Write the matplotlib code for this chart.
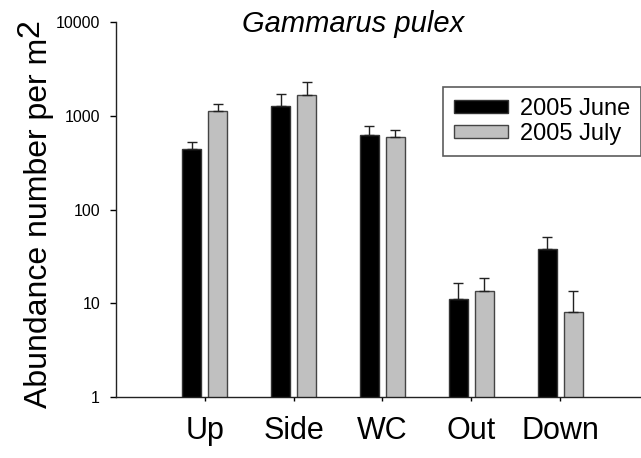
import numpy as np
import matplotlib
matplotlib.use('Agg')
import matplotlib.pyplot as plt

plt.rcParams['font.family'] = ['Liberation Sans', 'DejaVu Sans']

sites = ['Up', 'Side', 'WC', 'Out', 'Down']
june = [439, 1262, 623, 11.0, 37.9]
july = [1132, 1652, 589, 13.6, 8.1]
june_err = [82, 444, 160, 5.3, 13.4]
july_err = [193, 622, 121, 4.9, 5.5]
series_names = ['2005 June', '2005 July']
yticks = [1, 10, 100, 1000, 10000]

fig = plt.figure(figsize=(6.41, 4.58), dpi=100)
ax = fig.add_axes([116/641, 61/458, 524/641, 375/458])

x = np.arange(len(sites))
w = 0.214
off = 0.147
err_kw = dict(ecolor='#222222', elinewidth=1.0, capsize=3.6, capthick=1.0)
ax.bar(x - off, june, w, color='black', edgecolor='#333333', linewidth=1,
       yerr=[np.zeros(len(june)), june_err], error_kw=err_kw, label=series_names[0])
ax.bar(x + off, july, w, color='#c0c0c0', edgecolor='#444444', linewidth=1,
       yerr=[np.zeros(len(july)), july_err], error_kw=err_kw, label=series_names[1])

ax.set_yscale('log')
ax.set_ylim(1, 10000)
ax.set_xlim(-1.0, 4.9)
ax.set_yticks(yticks)
ax.set_yticklabels([str(t) for t in yticks])
ax.minorticks_off()
ax.tick_params(axis='y', direction='out', length=4.5, width=1, pad=7, labelsize=11.5)
ax.set_xticks(x)
ax.set_xticklabels(sites, fontsize=22)
ax.tick_params(axis='x', direction='out', length=3, width=1, pad=11)

for s in ['top', 'right']:
    ax.spines[s].set_visible(False)
for s in ['left', 'bottom']:
    ax.spines[s].set_linewidth(1)
    ax.spines[s].set_color('#222222')

leg = ax.legend(loc='upper left', bbox_to_anchor=(443/641, (458-87)/458),
                bbox_transform=fig.transFigure, fontsize=17, frameon=True,
                fancybox=False, borderaxespad=0, handlelength=2.3,
                handleheight=0.45, handletextpad=0.5, labelspacing=0.15,
                borderpad=0.45)
leg.get_frame().set_edgecolor('#333333')
leg.get_frame().set_linewidth(1.2)

ylab = fig.text(47/641, (458-408)/458, 'Abundance number per m', rotation=90,
                rotation_mode='anchor', ha='left', va='baseline', fontsize=23)
fig.canvas.draw()
bb = ylab.get_window_extent()
# full-size raised "2" just after the label
fig.text(38/641, (bb.y1 + 1)/458, '2', rotation=90, rotation_mode='anchor',
         ha='left', va='baseline', fontsize=23)
fig.text(353/641, (458-32)/458, 'Gammarus pulex', ha='center', va='baseline',
         fontsize=21, style='italic')

fig.savefig('out.png', dpi=100)
